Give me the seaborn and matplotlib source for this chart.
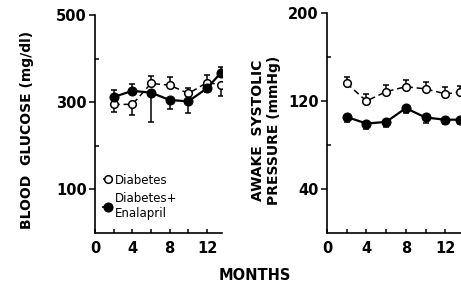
import numpy as np
import matplotlib
matplotlib.use("Agg")
import matplotlib.pyplot as plt
import seaborn as sns

# months of follow-up
months = [2, 4, 6, 8, 10, 12, 13.5]

# blood glucose (mg/dl), mean with one-sided error bars as drawn
glu_dm = [295, 295, 343, 339, 320, 345, 340]
glu_dm_lo = [17, 25, 0, 0, 0, 0, 26]
glu_dm_hi = [0, 0, 17, 18, 13, 18, 0]
glu_en = [312, 326, 322, 305, 302, 332, 368]
glu_en_lo = [0, 0, 68, 21, 27, 8, 0]
glu_en_hi = [17, 15, 0, 0, 0, 0, 13]

# awake systolic pressure (mmHg)
bp_dm = [136, 120, 128.5, 133, 131, 126.5, 128]
bp_dm_hi = [6, 6, 6, 6, 6, 6, 6]
bp_en = [105.5, 99.5, 101, 113.5, 105, 103, 103]
bp_en_lo = [5, 5, 5, 4, 5, 4, 4]

sns.set_style("ticks")
plt.rcParams['font.family'] = ['DejaVu Sans']
plt.rcParams['font.weight'] = 'bold'
for key in ['text.color', 'axes.edgecolor', 'xtick.color', 'ytick.color',
            'axes.labelcolor']:
    plt.rcParams[key] = 'black'

W, H = 461, 284
fig = plt.figure(figsize=(W / 100, H / 100), dpi=100)

# axes placed in pixel terms of the reference
ax1 = fig.add_axes([95 / W, (H - 233) / H, 127 / W, 218 / H])
ax2 = fig.add_axes([327 / W, (H - 233) / H, 138 / W, 220 / H])


def draw(ax, y1, e1, y2, e2):
    ax.errorbar(months, y1, yerr=e1, fmt='none', ecolor='black',
                elinewidth=1.1, capsize=2.5, capthick=1.1, zorder=1)
    ax.errorbar(months, y2, yerr=e2, fmt='none', ecolor='black',
                elinewidth=1.1, capsize=2.5, capthick=1.1, zorder=1)
    sns.lineplot(x=months, y=y1, ax=ax, color='black', linewidth=1.1,
                 dashes=False, linestyle=(0, (4, 2.5)), marker='o',
                 markersize=5.5, markerfacecolor='white',
                 markeredgecolor='black', markeredgewidth=1.1, zorder=3,
                 label='Diabetes')
    sns.lineplot(x=months, y=y2, ax=ax, color='black', linewidth=1.6,
                 marker='o', markersize=6.5, markerfacecolor='black',
                 markeredgecolor='black', zorder=4,
                 label='Diabetes+\nEnalapril')


draw(ax1, glu_dm, [glu_dm_lo, glu_dm_hi], glu_en, [glu_en_lo, glu_en_hi])
draw(ax2, bp_dm, [[0] * 7, bp_dm_hi], bp_en, [bp_en_lo, [0] * 7])

ax1.set_xlim(0, 13.6)
ax1.set_ylim(0, 500)
ax1.set_yticks([100, 300, 500])
ax1.set_yticks([200, 400], minor=True)
ax2.set_xlim(0, 14)
ax2.set_ylim(0, 200)
ax2.set_yticks([40, 120, 200])
ax2.set_yticks([80, 160], minor=True)

for ax in (ax1, ax2):
    sns.despine(ax=ax)
    ax.spines['left'].set_linewidth(1.2)
    ax.spines['bottom'].set_linewidth(1.2)
    ax.set_xticks([0, 4, 8, 12])
    ax.set_xticks([2, 6, 10], minor=True)
    ax.tick_params(axis='y', which='major', direction='out', length=4,
                   width=1.1, pad=2, labelsize=10.5)
    ax.tick_params(axis='y', which='minor', direction='in', length=3,
                   width=1.1)
    ax.tick_params(axis='x', which='both', direction='in', length=3,
                   width=1.1, pad=6, labelsize=10.5)
    ax.set_xlabel('')
    ax.set_ylabel('')

ax2.get_legend().remove()
ax1.legend(loc='upper left', bbox_to_anchor=(0.02, 0.3), frameon=False,
           prop={'size': 8.5, 'weight': 'normal'}, handlelength=0.7,
           handletextpad=0.25, borderpad=0, labelspacing=0.5)

fig.text(27 / W, 1 - 130 / H, 'BLOOD  GLUCOSE (mg/dl)', rotation=90,
         ha='center', va='center', fontsize=10)
fig.text(266 / W, 1 - 130 / H, 'AWAKE  SYSTOLIC\nPRESSURE (mmHg)',
         rotation=90, ha='center', va='center', fontsize=10,
         linespacing=1.1)
fig.text(255 / W, 1 - 275 / H, 'MONTHS', ha='center', va='center',
         fontsize=10.5)

fig.savefig('out.png', dpi=100)
